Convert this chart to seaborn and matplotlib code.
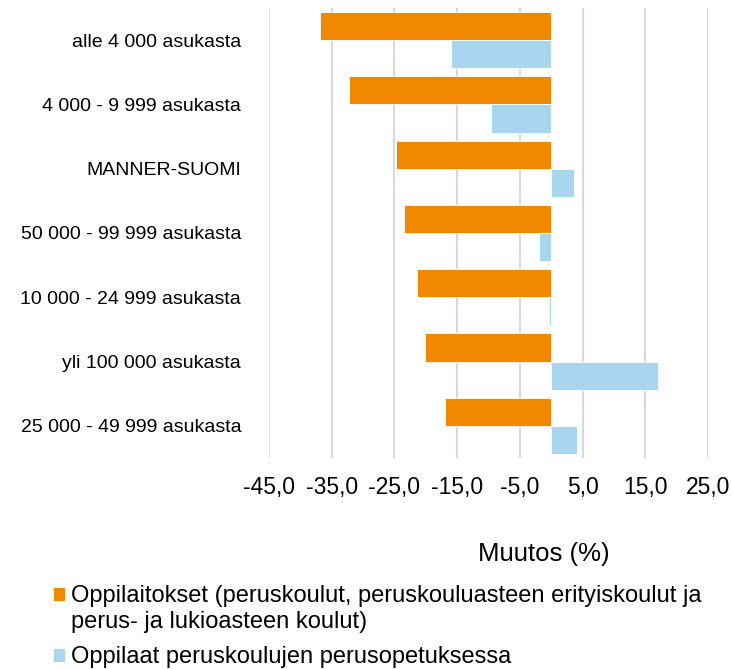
#!/usr/bin/env python3

"""Muutos (%) kuntaryhmittäin: oppilaitokset ja oppilaat."""

import matplotlib

matplotlib.use("Agg")
import matplotlib.pyplot as plt
import matplotlib.ticker as mticker
import pandas as pd
import seaborn as sns

CATEGORIES = [
    "alle 4 000 asukasta",
    "4 000 - 9 999 asukasta",
    "MANNER-SUOMI",
    "50 000 - 99 999 asukasta",
    "10 000 - 24 999 asukasta",
    "yli 100 000 asukasta",
    "25 000 - 49 999 asukasta",
]
OPPILAITOKSET = [-36.8, -32.2, -24.7, -23.4, -21.4, -20.2, -16.9]
OPPILAAT = [-16.0, -9.6, 3.6, -1.9, -0.3, 17.1, 4.1]
SERIES = [
    "Oppilaitokset (peruskoulut, peruskouluasteen erityiskoulut ja",
    "Oppilaat peruskoulujen perusopetuksessa",
]
# second line of the first legend label (wrapped as in the original)
SERIES_1_CONT = "perus- ja lukioasteen koulut)"
X_TICKS = [-45, -35, -25, -15, -5, 5, 15, 25]
COLORS = ["#F08800", "#A9D6EE"]


def main() -> None:
    sns.set_style("white")
    plt.rcParams["font.family"] = ["Liberation Sans", "DejaVu Sans"]
    plt.rcParams["text.color"] = "black"

    data = pd.DataFrame(
        {
            "kuntaryhma": CATEGORIES * 2,
            "muutos": OPPILAITOKSET + OPPILAAT,
            "sarja": [SERIES[0]] * len(CATEGORIES) + [SERIES[1]] * len(CATEGORIES),
        }
    )

    fig = plt.figure(figsize=(7.33, 6.69), dpi=100)
    ax = fig.add_axes([269 / 733, 1 - 458 / 669, (708 - 269) / 733, 450 / 669])

    sns.barplot(
        data,
        x="muutos",
        y="kuntaryhma",
        hue="sarja",
        order=CATEGORIES,
        hue_order=SERIES,
        palette=COLORS,
        orient="h",
        width=0.875,
        gap=0,
        saturation=1,
        edgecolor="white",
        linewidth=0.6,
        ax=ax,
        zorder=3,
    )

    ax.set_xlim(-45, 25)
    ax.set_ylim(6.5, -0.5)
    ax.xaxis.set_major_locator(mticker.FixedLocator(X_TICKS))
    ax.xaxis.set_major_formatter(
        mticker.FuncFormatter(lambda v, _: f"{v:.1f}".replace(".", ","))
    )
    ax.grid(axis="x", color="#d9d9d9", linewidth=1.5, zorder=0)
    ax.grid(axis="y", visible=False)
    sns.despine(ax=ax, left=True, bottom=True)
    ax.tick_params(axis="both", length=0, colors="black")
    ax.tick_params(axis="y", pad=20, labelsize=14)
    ax.tick_params(axis="x", pad=13, labelsize=16.5)
    ax.set_xlabel("")
    ax.set_ylabel("")

    handles, labels = ax.get_legend_handles_labels()
    ax.get_legend().remove()
    fig.text(544 / 733, 1 - 554 / 669, "Muutos (%)", ha="center", va="center", fontsize=18.5)
    fig.legend(
        handles,
        labels,
        loc="upper left",
        bbox_to_anchor=(43.5 / 733, 1 - 576 / 669),
        frameon=False,
        fontsize=17,
        handlelength=0.5,
        handleheight=0.5,
        handletextpad=0.25,
        labelspacing=1.65,
        borderaxespad=0,
    )
    fig.text(71 / 733, 1 - 628 / 669, SERIES_1_CONT, ha="left", va="baseline", fontsize=17)

    fig.savefig("out.png", dpi=100)


if __name__ == "__main__":
    main()
